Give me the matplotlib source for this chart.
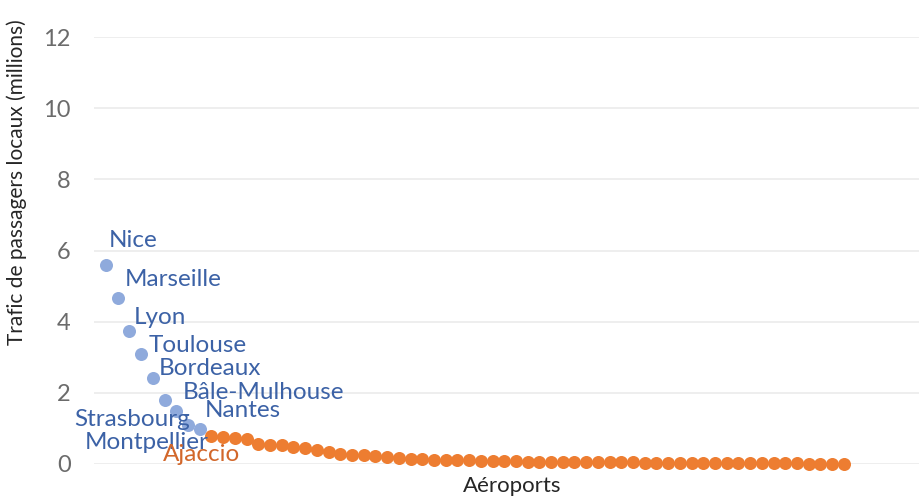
import matplotlib
matplotlib.use("Agg")
import matplotlib.pyplot as plt

# top airports (labelled, blue) then the rest (orange)
top_names = ["Nice", "Marseille", "Lyon", "Toulouse", "Bordeaux",
             "Bâle-Mulhouse", "Nantes", "Strasbourg", "Montpellier"]
top_vals = [5.59, 4.67, 3.74, 3.09, 2.42, 1.80, 1.49, 1.10, 0.98]

other_vals = [0.80, 0.76, 0.73, 0.70, 0.55, 0.54, 0.53, 0.49, 0.44, 0.38,
              0.35, 0.27, 0.25, 0.24, 0.22, 0.19, 0.16, 0.15, 0.14, 0.12,
              0.11, 0.10, 0.10, 0.09, 0.09, 0.08, 0.08, 0.07, 0.07, 0.07,
              0.06, 0.06, 0.06, 0.05, 0.05, 0.05, 0.05, 0.04, 0.04, 0.04,
              0.04, 0.03, 0.03, 0.03, 0.03, 0.03, 0.02, 0.02, 0.02, 0.02,
              0.02, 0.01, 0.01, 0.01, 0.01]

# label offsets in pixels (dx, dy, ha)
offsets = [(3, 25, "left"), (7, 18, "left"), (4, 13, "left"), (7, 9, "left"),
           (6, 9, "left"), (18, 7, "left"), (28, 0, "left"), (2, 5, "right"),
           (9, -13, "right")]

plt.rcParams["font.family"] = ["Lato", "DejaVu Sans"]

fig = plt.figure(figsize=(9.2, 4.99), dpi=100)
ax = fig.add_axes([94.3 / 920, 35 / 499, (920 - 94.3) / 920, 427 / 499])

blue_pt = "#8FAADC"
blue_txt = "#3C62A6"
orange = "#ED7D31"

x_top = list(range(1, len(top_vals) + 1))
x_other = list(range(len(top_vals) + 1, len(top_vals) + len(other_vals) + 1))

ax.scatter(x_top, top_vals, s=88, color=blue_pt, zorder=3, clip_on=False, linewidths=0)
ax.scatter(x_other, other_vals, s=88, color=orange, zorder=3, clip_on=False, linewidths=0)

for xi, yi, name, (dx, dy, ha) in zip(x_top, top_vals, top_names, offsets):
    ax.annotate(name, (xi, yi), xytext=(dx, dy), textcoords="offset pixels",
                ha=ha, va="center", fontsize=17.5, color=blue_txt, zorder=4)
ax.annotate("Ajaccio", (x_other[0], other_vals[0]), xytext=(29, -19),
            textcoords="offset pixels", ha="right", va="center",
            fontsize=17.5, color="#D2672A", zorder=4)

ax.set_xlim(0, 70.5)
ax.set_ylim(0, 12)
ax.set_yticks(range(0, 13, 2))
ax.set_xticks([])
ax.tick_params(axis="y", length=0, pad=17, labelsize=17, labelcolor="#6b6b6b")
for s in ax.spines.values():
    s.set_visible(False)
ax.grid(axis="y", color="#EBEBEB", linewidth=1.2)
ax.set_axisbelow(True)

ax.set_ylabel("Trafic de passagers locaux (millions)", fontsize=15, color="#262626")
ax.yaxis.set_label_coords(-0.081, 0.66)
ax.set_xlabel("Aéroports", fontsize=16, color="#262626")
ax.xaxis.set_label_coords(0.506, -0.028)

fig.savefig("out.png", dpi=100)
